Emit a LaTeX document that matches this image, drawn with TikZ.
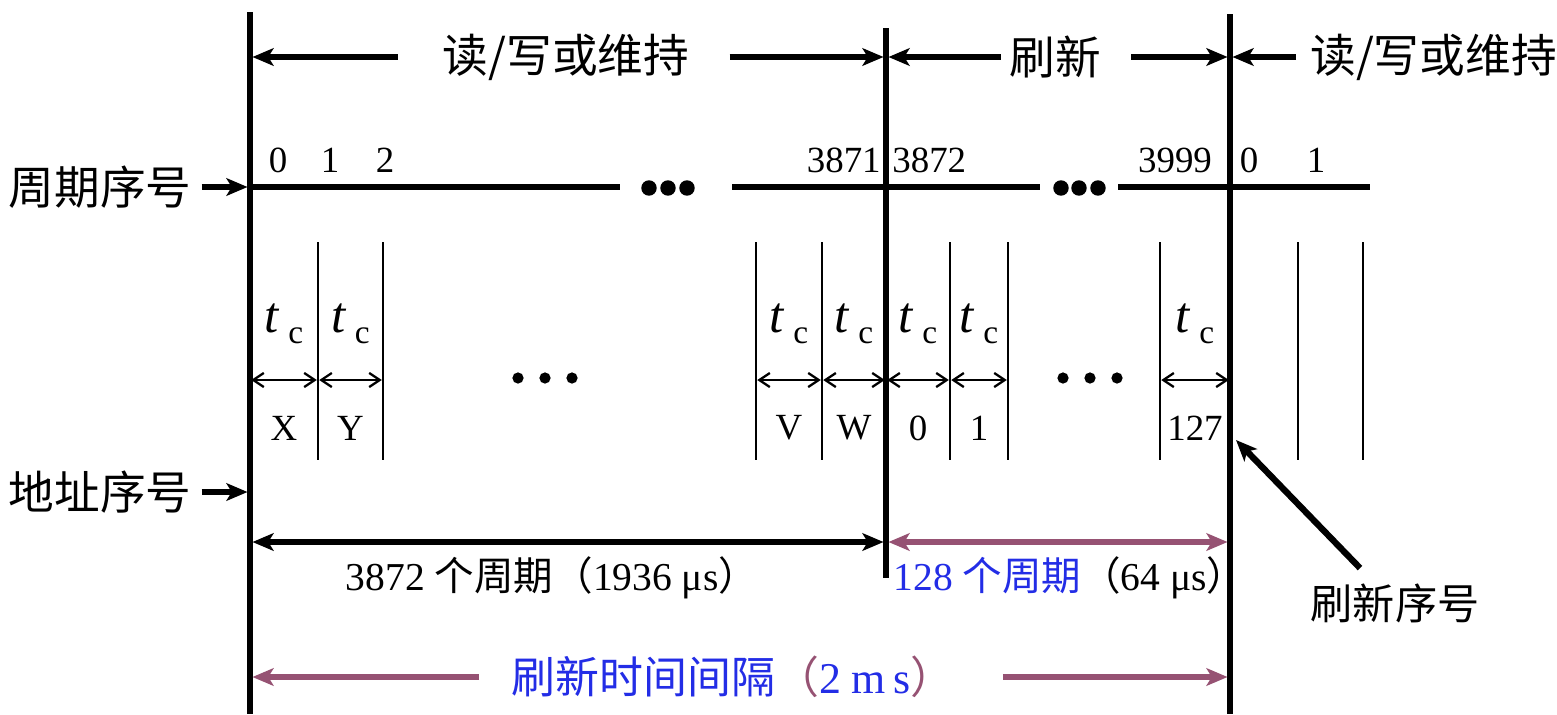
\documentclass[tikz,border=0pt]{standalone}
\usepackage{fontspec}
\setmainfont{Liberation Serif}
\newfontfamily\cjk{Noto Sans CJK SC}
\usetikzlibrary{arrows.meta,calc}
\definecolor{spanpurple}{RGB}{150,82,115}
\definecolor{textblue}{RGB}{35,45,230}
\tikzset{
  frame/.style={line width=3pt},
  slot/.style={line width=1.4pt},
  cycleline/.style={line width=3.2pt},
  bigarrow/.style={
    line width=3.6pt,
    -{Stealth[length=12pt,width=10pt,inset=3pt]},
    shorten >=1.4pt
  },
  spanarrow/.style={
    line width=3.4pt,
    {Stealth[length=12pt,width=10pt,inset=3pt]}-{Stealth[length=12pt,width=10pt,inset=3pt]},
    shorten <=1.4pt, shorten >=1.4pt
  },
  halfspan/.style={
    line width=3.4pt,
    -{Stealth[length=12pt,width=10pt,inset=3pt]},
    shorten >=1.4pt
  },
  tinyarrow/.style={
    line width=1.3pt,
    {Straight Barb[length=6pt,width=8pt]}-{Straight Barb[length=6pt,width=8pt]},
    shorten <=0.7pt, shorten >=0.7pt
  },
  zhlabel/.style={font=\cjk\fontsize{26}{26}\selectfont, inner sep=0pt},
  numlabel/.style={font=\fontsize{21}{21}\selectfont, inner sep=0pt},
  spanlabel/.style={font=\fontsize{22.5}{22.5}\selectfont, inner sep=0pt},
  tclabel/.style={font=\fontsize{29}{29}\selectfont, inner sep=0pt}
}
\newcommand{\zh}[1]{{\cjk #1}}
\newcommand{\tcsym}{\textit{t}\,\raisebox{-6pt}{\fontsize{19}{19}\selectfont c}}

\begin{document}
\begin{tikzpicture}[x=0.02cm,y=-0.02cm]
  \useasboundingbox (0,0) rectangle (1557,714);
  % boundaries between read/write and refresh
  \coordinate (A) at (250,0);
  \coordinate (B) at (886,0);
  \coordinate (C) at (1230,0);
  \draw[frame] (250,12) -- (250,714);
  \draw[frame] (886,28) -- (886,578);
  \draw[frame] (1230,14) -- (1230,714);

  % phase labels
  \node[zhlabel] (rw1) at (566,57) {读/写或维持};
  \node[zhlabel] (rf) at (1055,57) {刷新};
  \node[zhlabel, anchor=west] (rw2) at (1310,57) {读/写或维持};
  \draw[bigarrow] ($(rw1.west)+(-45,0)$) -- (A |- rw1);
  \draw[bigarrow] ($(rw1.east)+(40,0)$) -- (B |- rw1);
  \draw[bigarrow] ($(rf.west)+(-8,0)$) -- (B |- rf);
  \draw[bigarrow] ($(rf.east)+(30,0)$) -- (C |- rf);
  \draw[bigarrow] ($(rw2.west)+(-14,0)$) -- (C |- rw2);

  % cycle numbers
  \node[zhlabel] (cyc) at (100,187) {周期序号};
  \draw[bigarrow] ($(cyc.east)+(10,0)$) -- (A |- cyc);
  \draw[cycleline] (250,187) -- (620,187);
  \draw[cycleline] (732,187) -- (1040,187);
  \draw[cycleline] (1118,187) -- (1370,187);
  \foreach \x in {649,668,687,1061,1079,1098}
    \fill (\x,188) circle (4.4pt);
  \node[numlabel] (n0) at (278,160) {0};
  \node[numlabel] (n1) at (330,160) {1};
  \node[numlabel] (n2) at (385,160) {2};
  \node[numlabel, anchor=east] (n3871) at (881,160) {3871};
  \node[numlabel, anchor=west] (n3872) at (892,160) {3872};
  \node[numlabel] (n3999) at (1175,160) {3999};
  \node[numlabel] (m0) at (1249,160) {0};
  \node[numlabel] (m1) at (1316,160) {1};

  % cycle slots
  \foreach \x in {318,383,756,822,950,1008,1160,1298,1363}
    \draw[slot] (\x,242) -- (\x,460);
  \foreach \a/\b/\txt [count=\i] in {250/318/X,318/383/Y,756/822/V,822/886/W,886/950/0,950/1008/1,1160/1230/127} {
    \coordinate (p\i) at (\a,380);
    \coordinate (q\i) at (\b,380);
    \draw[tinyarrow] (p\i) -- (q\i);
    \node[tclabel] (tc\i) at ($(p\i)!0.5!(q\i)+(0,-56)$) {\tcsym};
    \node[numlabel] (ad\i) at ($(p\i)!0.5!(q\i)+(0,48)$) {\txt};
  }
  \foreach \x in {518,545,572,1063,1090,1117}
    \fill (\x,378) circle (3.2pt);

  % address numbers
  \node[zhlabel] (adr) at (100,492) {地址序号};
  \draw[bigarrow] ($(adr.east)+(10,0)$) -- (A |- adr);
  \node[zhlabel, font=\cjk\fontsize{24}{24}\selectfont] (rfn) at (1395,603) {刷新序号};
  \coordinate (rfntip) at (1236,440);
  \draw[bigarrow, shorten >=0pt] ($(rfn.north)+(-35,-15)$) -- (rfntip);

  % spans
  \coordinate (s1) at (250,542);
  \draw[spanarrow] (s1) -- (B |- s1);
  \draw[spanarrow, spanpurple] (B |- s1) -- (C |- s1);
  \node[spanlabel] (rwspan) at (552,578)
    {3872 \zh{个周期（}1936 μs\zh{）}};
  \node[spanlabel] (rfspan) at (1070,578)
    {\textcolor{textblue}{128 \zh{个周期}}\zh{（}64 μs\zh{）}};

  \node[font=\fontsize{25}{25}\selectfont, inner sep=0pt, textblue] (total) at (733,677)
    {\zh{刷新时间间隔\textcolor{spanpurple}{（}}2 m\,s\zh{\textcolor{spanpurple}{）}}};
  \draw[halfspan, spanpurple] ($(total.west)+(-32,0)$) -- (A |- total);
  \draw[halfspan, spanpurple] ($(total.east)+(48,0)$) -- (C |- total);
\end{tikzpicture}
\end{document}
